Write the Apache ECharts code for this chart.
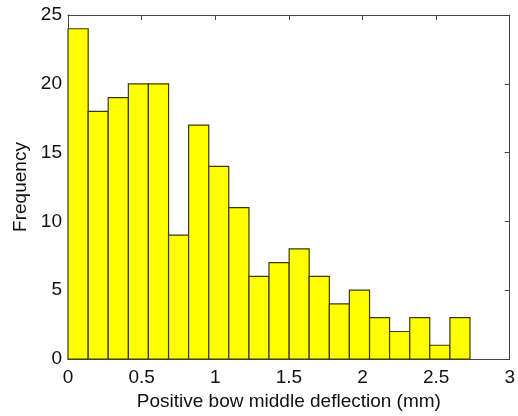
<!DOCTYPE html>
<html>
<head>
<meta charset="utf-8">
<script src="https://cdn.jsdelivr.net/npm/echarts@6/dist/echarts.min.js"></script>
<style>
  html, body { margin: 0; padding: 0; background: #fff; }
  #main { width: 518px; height: 416px; }
</style>
</head>
<body>
<div id="main"></div>
<script>
// bin edges (mm) and counts
const binEdges = [0, 0.137, 0.273, 0.41, 0.546, 0.683, 0.819, 0.956, 1.092, 1.229, 1.365,
  1.502, 1.638, 1.775, 1.911, 2.048, 2.184, 2.321, 2.457, 2.594, 2.73];
const counts = [24, 18, 19, 20, 20, 9, 17, 14, 11, 6, 7, 8, 6, 4, 5, 3, 2, 3, 1, 3];

const xTicks = [0, 0.5, 1, 1.5, 2, 2.5, 3];
const yTicks = [0, 5, 10, 15, 20, 25];

const histData = counts.map((c, i) => [binEdges[i], binEdges[i + 1], c]);

const chart = echarts.init(document.getElementById('main'));

const axisLine = { show: true, onZero: false, lineStyle: { color: '#444', width: 1 } };
const tickIn = { show: true, inside: true, length: 5, lineStyle: { color: '#444' } };
const font = 'Liberation Sans, Arial, sans-serif';
const labelFont = { color: '#111', fontFamily: font, fontSize: 19 };
const nameFont = { color: '#111', fontFamily: font, fontSize: 19 };

const option = {
  backgroundColor: '#fff',
  animation: false,
  grid: { left: 68, right: 5, top: 15, bottom: 53 },
  xAxis: [
    {
      type: 'value', min: xTicks[0], max: xTicks[xTicks.length - 1], interval: 0.5,
      position: 'bottom',
      name: 'Positive bow middle deflection (mm)',
      nameLocation: 'middle', nameGap: 33,
      nameTextStyle: nameFont,
      axisLine, axisTick: tickIn,
      axisLabel: Object.assign({ margin: 9 }, labelFont),
      splitLine: { show: false },
    },
    {
      type: 'value', min: 0, max: 3, interval: 0.5, position: 'top',
      axisLine, axisTick: tickIn, axisLabel: { show: false }, splitLine: { show: false },
    },
  ],
  yAxis: [
    {
      type: 'value', min: yTicks[0], max: yTicks[yTicks.length - 1], interval: 5,
      position: 'left',
      name: 'Frequency', nameLocation: 'middle', nameGap: 38, nameRotate: 90,
      nameTextStyle: nameFont,
      axisLine, axisTick: tickIn,
      axisLabel: Object.assign({ margin: 6 }, labelFont),
      splitLine: { show: false },
    },
    {
      type: 'value', min: 0, max: 25, interval: 5, position: 'right',
      axisLine, axisTick: tickIn, axisLabel: { show: false }, splitLine: { show: false },
    },
  ],
  series: [
    {
      type: 'custom',
      xAxisIndex: 0,
      yAxisIndex: 0,
      data: histData,
      renderItem: (params, api) => {
        const p0 = api.coord([api.value(0), 0]);
        const p1 = api.coord([api.value(1), api.value(2)]);
        return {
          type: 'rect',
          shape: { x: p0[0], y: p1[1], width: p1[0] - p0[0], height: p0[1] - p1[1] },
          style: { fill: '#ffff00', stroke: '#3a3a10', lineWidth: 1.2 },
        };
      },
    },
  ],
};

chart.setOption(option);
</script>
</body>
</html>
